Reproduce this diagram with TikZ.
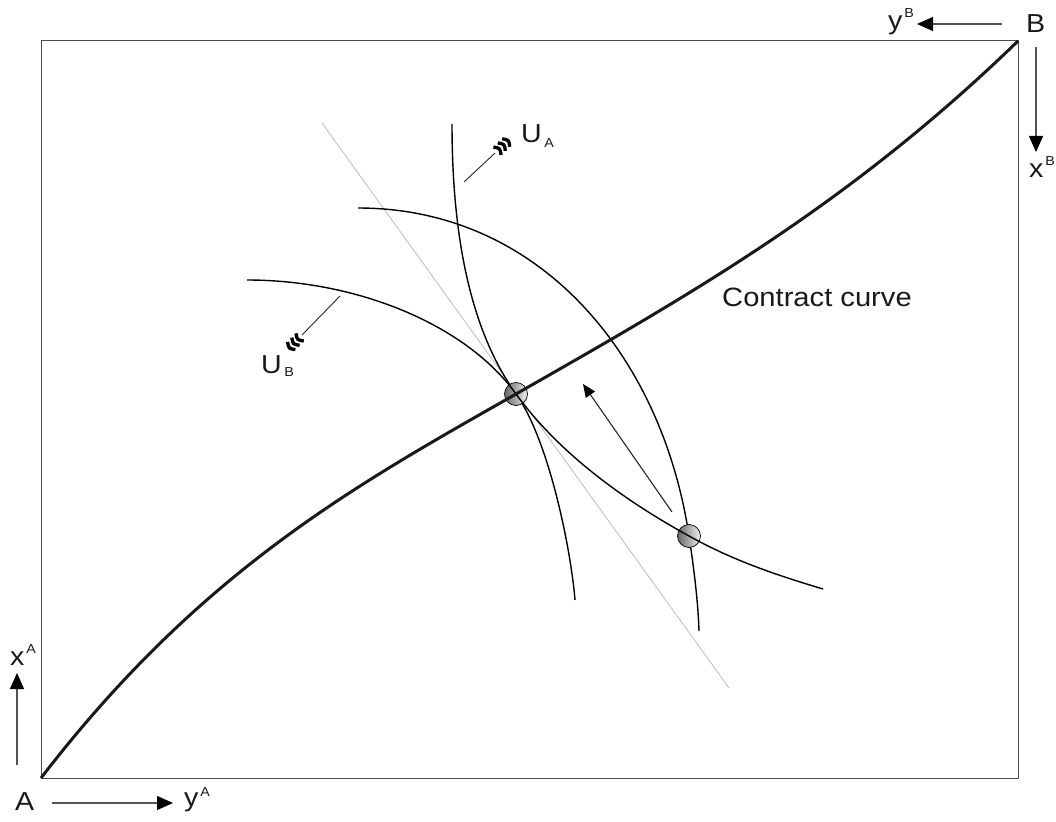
\documentclass[tikz,border=0pt]{standalone}
\usepackage{fontspec}
\setmainfont{Liberation Sans}[FakeStretch=1.1]
\usetikzlibrary{arrows.meta}
\begin{document}
\begin{tikzpicture}[x=1pt,y=-1pt,
  boxline/.style={line width=1pt, draw=gray!60!black},
  tangentline/.style={line width=0.6pt, draw=gray!65},
  icurve/.style={line width=1.4pt, draw=black},
  ccurve/.style={line width=3pt, draw=black!90},
  axisarrow/.style={line width=1.2pt, draw=gray!65!black, -{Triangle[length=16pt,width=14pt,color=black]}},
  movearrow/.style={line width=1.1pt, draw=black!85, -{Triangle[length=13pt,width=11pt,color=black]}},
  uline/.style={line width=0.9pt, draw=black!85},
  chev/.style={line width=3.3pt, line cap=butt, draw=black},
  lbl/.style={inner sep=0pt, anchor=base west, font=\fontsize{26}{26}\selectfont, text=black!90},
  sublbl/.style={inner sep=0pt, anchor=base west, font=\fontsize{13}{13}\selectfont, text=black!90},
  ballstyle/.style={circle, minimum size=23pt, inner sep=0pt, draw=black, line width=0.7pt, left color=gray!80!black, right color=gray!12},
]
\useasboundingbox (0,0) rectangle (1056,821);

% box
\coordinate (A0) at (41,778);
\coordinate (B0) at (1018,41);
\draw[boxline] (A0) rectangle (B0);

% key points
\coordinate (P1) at (516,394);
\coordinate (P2) at (689,536);

% tangent (price) line
\coordinate (t1) at (322,123);
\coordinate (t2) at (729,688);
\draw[tangentline] (t1) -- (t2);

% indifference curves of A
\coordinate (c1a) at (452,124);
\coordinate (c1b) at (575,600);
\draw[icurve] (c1a) .. controls (452,244) and (473,334) .. (P1)
                    .. controls (549,440) and (571,550) .. (c1b);
\coordinate (c2a) at (358,208);
\coordinate (c2b) at (699,631);
\draw[icurve] (c2a) .. controls (540,208) and (662,356) .. (P2)
                    .. controls (693.5,566) and (698,600) .. (c2b);

% allocation points
\node[ballstyle] (e1) at (P1) {};
\node[ballstyle] (e2) at (P2) {};

% indifference curve of B
\coordinate (c3a) at (247,280);
\coordinate (c3b) at (823,589);
\draw[icurve] (c3a) .. controls (357,280) and (466,324.5) .. (P1)
                    .. controls (561,456) and (629,503) .. (P2)
                    .. controls (734,561) and (778,575.5) .. (c3b);

% contract curve
\draw[ccurve] (A0) .. controls (201,570) and (356,485) .. (P1)
                   .. controls (686,297) and (848,206) .. (B0);

% movement arrow
\coordinate (m1) at (672,512);
\coordinate (m2) at (583,384);
\draw[movearrow] (m1) -- (m2);

% axis arrows
\coordinate (yb1) at (1002,24); \coordinate (yb2) at (917,24);
\coordinate (xb1) at (1036,47); \coordinate (xb2) at (1036,152);
\coordinate (xa1) at (17,765);  \coordinate (xa2) at (17,673);
\coordinate (ya1) at (52,803);  \coordinate (ya2) at (173,803);
\draw[axisarrow] (yb1) -- (yb2);
\draw[axisarrow] (xb1) -- (xb2);
\draw[axisarrow] (xa1) -- (xa2);
\draw[axisarrow] (ya1) -- (ya2);

% utility direction arrows
\coordinate (ua1) at (464,182); \coordinate (ua2) at (495,153);
\draw[uline] (ua1) -- (ua2);
\draw[chev] (493.4,147.0) .. controls (500.1,148.2) .. (501.0,155.0);
\draw[chev] (497.8,142.9) .. controls (504.5,144.1) .. (505.3,150.9);
\draw[chev] (502.2,138.8) .. controls (508.9,140.0) .. (509.7,146.8);

\coordinate (ub1) at (340,296); \coordinate (ub2) at (302,335);
\draw[uline] (ub1) -- (ub2);
\draw[chev] (296.0,333.3) .. controls (297.1,340.0) .. (303.8,341.0);
\draw[chev] (291.8,337.6) .. controls (292.9,344.3) .. (299.6,345.3);
\draw[chev] (287.6,341.9) .. controls (288.7,348.6) .. (295.4,349.6);

% labels
\node[lbl] (lA) at (15,810) {A};
\node[lbl] (lyA) at (184,806) {y};
\node[sublbl] (lyAs) at ([xshift=1.5pt,yshift=10pt]lyA.base east) {A};
\node[lbl] (lxA) at (10,665) {x};
\node[sublbl] (lxAs) at ([xshift=1.5pt,yshift=12pt]lxA.base east) {A};
\node[lbl] (lB) at (1026,33) {B};
\node[lbl] (lyB) at (888,30) {y};
\node[sublbl] (lyBs) at ([xshift=1.5pt,yshift=12pt]lyB.base east) {B};
\node[lbl] (lxB) at (1029,178) {x};
\node[sublbl] (lxBs) at ([xshift=1.5pt,yshift=12pt]lxB.base east) {B};
\node[lbl] (lUA) at (521,143) {U};
\node[sublbl] (lUAs) at ([xshift=2pt,yshift=-5pt]lUA.base east) {A};
\node[lbl] (lUB) at (261,373) {U};
\node[sublbl] (lUBs) at ([xshift=2pt,yshift=-3pt]lUB.base east) {B};
\node[lbl, font=\fontsize{26.5}{26.5}\selectfont] (lcc) at (722,306) {Contract curve};
\end{tikzpicture}
\end{document}
